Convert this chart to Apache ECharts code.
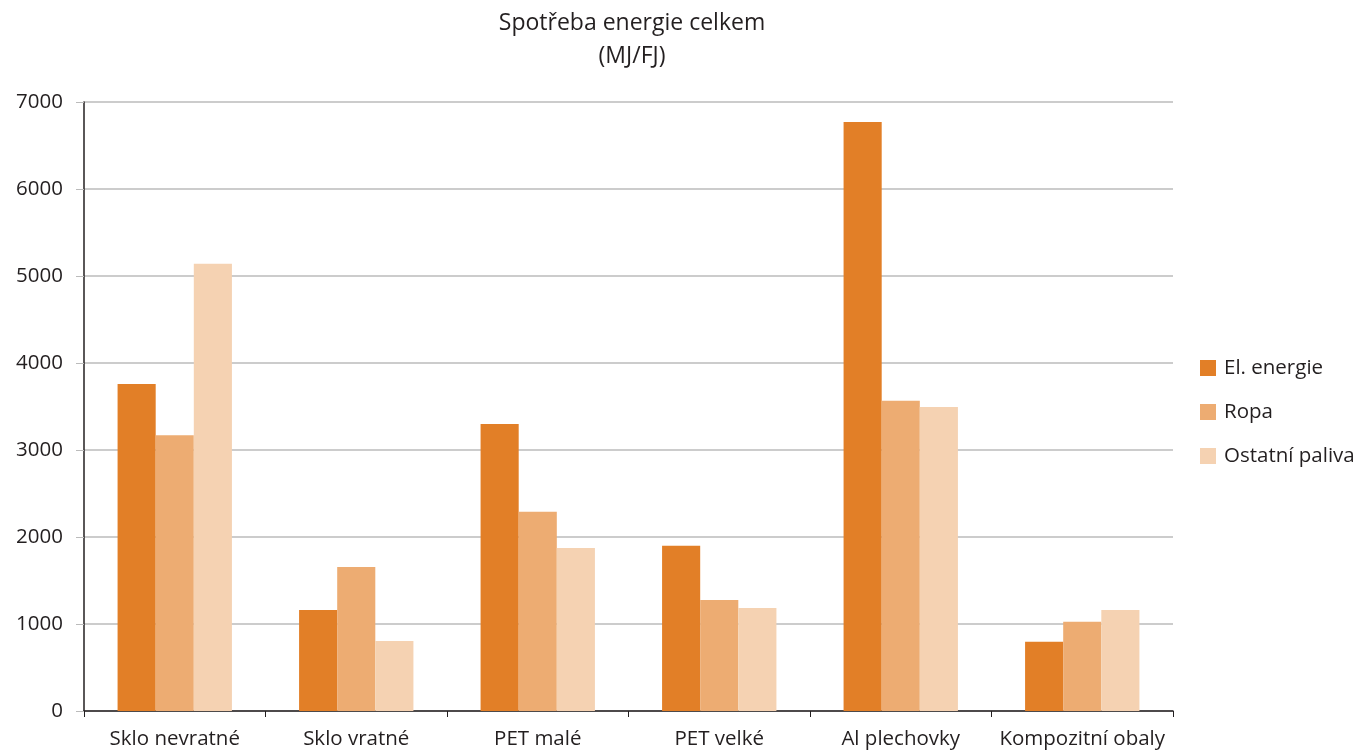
<!DOCTYPE html>
<html><head><meta charset="utf-8">
<script src="https://cdn.jsdelivr.net/npm/echarts@6/dist/echarts.min.js"></script>
<style>html,body{margin:0;padding:0;background:#fff}#c{width:1362px;height:751px}</style>
</head><body><div id="c"></div>
<script>
const categories = ['Sklo nevratné','Sklo vratné','PET malé','PET velké','Al plechovky','Kompozitní obaly'];
const seriesNames = ['El. energie','Ropa','Ostatní paliva'];
const elEnergie = [3760, 1160, 3300, 1900, 6770, 795];
const ropa = [3170, 1655, 2290, 1275, 3565, 1025];
const ostatni = [5140, 805, 1875, 1185, 3495, 1160];
const yTicks = [0,1000,2000,3000,4000,5000,6000,7000];
const colors = ['#E27F27','#EDAC72','#F5D2B2'];
const font = '"Open Sans", "Noto Sans", sans-serif';
const chart = echarts.init(document.getElementById('c'));
const vals = [elEnergie, ropa, ostatni];
chart.setOption({
  animation:false,
  title:{text:'Spotřeba energie celkem\n(MJ/FJ)', left:627, textAlign:'center', top:2,
    textStyle:{fontFamily:font, fontSize:23, fontWeight:'normal', color:'#231f20', lineHeight:33}},
  legend:{orient:'vertical', left:1195, top:351, itemWidth:16, itemHeight:16, itemGap:20,
    icon:'rect', textStyle:{fontFamily:font, fontSize:20.5, color:'#231f20', padding:[0,0,0,3], lineHeight:24}},
  grid:{left:84, right:189, top:102, bottom:40, containLabel:false},
  xAxis:{type:'category', data:categories,
    axisLine:{lineStyle:{color:'#231f20', width:1.5}},
    axisTick:{show:true, length:6, lineStyle:{color:'#231f20'}},
    axisLabel:{fontFamily:font, fontSize:20.5, color:'#231f20', margin:18, interval:0}},
  yAxis:{type:'value', min:0, max:7000, interval:1000,
    axisLine:{show:true, lineStyle:{color:'#231f20', width:1.5}},
    axisTick:{show:true, length:8, lineStyle:{color:'#bbbbbb'}},
    splitLine:{lineStyle:{color:'#bbbbbb', width:1.5}},
    axisLabel:{fontFamily:font, fontSize:20.5, color:'#231f20', margin:21,
      formatter:v=> yTicks.includes(v) ? String(v) : ''}},
  series: seriesNames.map((n,i)=>({name:n, type:'bar', data:vals[i], barGap:'0%', barCategoryGap:'37%',
    itemStyle:{color:colors[i]}}))
});
</script></body></html>
